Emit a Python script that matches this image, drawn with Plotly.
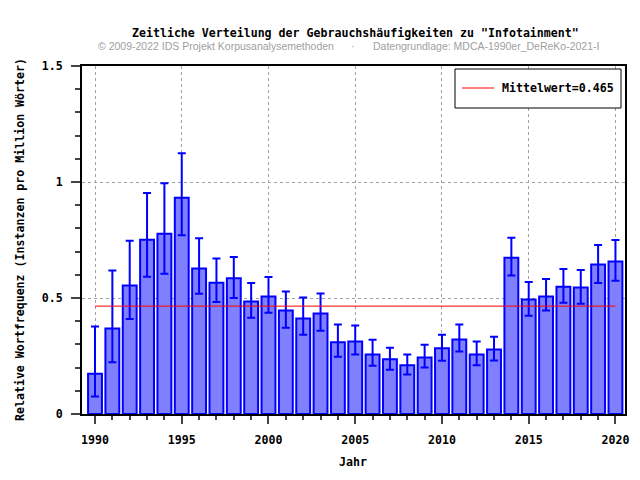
import plotly.graph_objects as go

# -- Daten
jahre = list(range(1990, 2021))
frequenz = [0.173, 0.369, 0.554, 0.751, 0.777, 0.932, 0.627, 0.566, 0.585, 0.485,
            0.506, 0.446, 0.412, 0.433, 0.309, 0.313, 0.257, 0.236, 0.210, 0.244,
            0.283, 0.321, 0.257, 0.278, 0.674, 0.493, 0.506, 0.549, 0.545, 0.644, 0.657]
fehler_oben = [0.377, 0.618, 0.747, 0.953, 0.995, 1.124, 0.758, 0.670, 0.677, 0.565,
               0.591, 0.528, 0.502, 0.519, 0.386, 0.382, 0.320, 0.286, 0.256, 0.299,
               0.342, 0.386, 0.312, 0.333, 0.760, 0.569, 0.582, 0.625, 0.621, 0.728, 0.750]
fehler_unten = [0.075, 0.223, 0.410, 0.592, 0.604, 0.771, 0.518, 0.483, 0.500, 0.415,
                0.436, 0.372, 0.342, 0.359, 0.247, 0.256, 0.208, 0.191, 0.170, 0.200,
                0.230, 0.269, 0.210, 0.231, 0.597, 0.423, 0.446, 0.480, 0.475, 0.565, 0.574]
mittelwert = 0.465

mono = 'DejaVu Sans Mono'

# -- Seite hat 8px Rand (body margin), daher Ränder entsprechend verschoben
OFF = 8
L, T, R, B = 74, 58, 23, 74
W, H = 640, 480
plot_w = W - L - R
plot_h = H - T - B


def px(x):
    # -- Pixel (Screenshot) -> paper x
    return (x - OFF - L) / plot_w


def py(y):
    # -- Pixel (Screenshot) -> paper y
    return (H - B - (y - OFF)) / plot_h


fig = go.Figure()

# -- Mittelwert-Linie (hinter den Balken)
fig.add_trace(go.Scatter(
    x=[jahre[0], jahre[-1]],
    y=[mittelwert, mittelwert],
    mode='lines',
    line=dict(color='#ff0000', width=1),
    name=f'Mittelwert={mittelwert}',
    showlegend=False,
))

fig.add_trace(go.Bar(
    x=jahre,
    y=frequenz,
    width=0.8,
    marker=dict(color='#8080ff', line=dict(color='#0000ff', width=2)),
    error_y=dict(
        type='data',
        array=[o - f for o, f in zip(fehler_oben, frequenz)],
        arrayminus=[f - u for f, u in zip(frequenz, fehler_unten)],
        color='#0000ff',
        thickness=2,
        width=4,
    ),
    showlegend=False,
))

grau = '#a0a0a0'
fig.update_layout(
    width=W,
    height=H,
    margin=dict(l=L, r=R, t=T, b=B),
    plot_bgcolor='white',
    paper_bgcolor='white',
    font=dict(family=mono, size=11.6, color='black', weight='bold'),
    showlegend=False,
    annotations=[
        dict(text='Zeitliche Verteilung der Gebrauchshäufigkeiten zu "Infotainment"',
             x=px(355), y=py(33), xanchor='center', yanchor='middle'),
        dict(text='© 2009-2022 IDS Projekt Korpusanalysemethoden',
             x=px(96), y=py(46), xanchor='left', yanchor='middle',
             font=dict(family='Liberation Sans', size=10.5, color=grau, weight='normal')),
        dict(text='·', x=px(353), y=py(46), xanchor='center', yanchor='middle',
             font=dict(family='Liberation Sans', size=10.5, color=grau, weight='normal')),
        dict(text='Datengrundlage: MDCA-1990er_DeReKo-2021-I',
             x=px(601), y=py(46), xanchor='right', yanchor='middle',
             font=dict(family='Liberation Sans', size=10.5, color=grau, weight='normal')),
        dict(text='Jahr', x=px(353), y=py(462), xanchor='center', yanchor='middle'),
        dict(text='Relative Wortfrequenz (Instanzen pro Million Wörter)',
             x=px(20), y=py(240), xanchor='center', yanchor='middle', textangle=-90),
        # -- Legende
        dict(text=f'Mittelwert={mittelwert}', x=px(500), y=py(88),
             xanchor='left', yanchor='middle'),
    ],
    shapes=[
        dict(type='rect', xref='paper', yref='paper',
             x0=px(455), x1=px(621), y0=py(69), y1=py(108),
             line=dict(color='black', width=1), fillcolor='white', layer='above'),
        dict(type='line', xref='paper', yref='paper',
             x0=px(462), x1=px(494), y0=py(88), y1=py(88),
             line=dict(color='#ff0000', width=1), layer='above'),
    ],
)
for a in fig.layout.annotations:
    a.xref = 'paper'
    a.yref = 'paper'
    a.showarrow = False

fig.update_xaxes(
    range=[1989.25, 2020.55],
    tickvals=list(range(1990, 2021, 5)),
    ticks='outside', ticklen=8, tickwidth=2, ticklabelstandoff=6,
    minor=dict(dtick=1, ticks='outside', ticklen=4, tickwidth=2, showgrid=False),
    showgrid=True, gridcolor=grau, griddash='dot', gridwidth=1,
    showline=True, linecolor='black', linewidth=2, mirror=True,
    zeroline=False,
)
fig.update_yaxes(
    range=[0, 1.5],
    tickvals=[0, 0.5, 1, 1.5],
    ticktext=['0', '0.5', '1', '1.5'],
    ticks='outside', ticklen=9, tickwidth=2, ticklabelstandoff=6,
    minor=dict(dtick=0.1, ticks='outside', ticklen=5, tickwidth=2, showgrid=False),
    showgrid=True, gridcolor=grau, griddash='dot', gridwidth=1,
    showline=True, linecolor='black', linewidth=2, mirror=True,
    zeroline=False,
)

fig.write_html('out.html')
